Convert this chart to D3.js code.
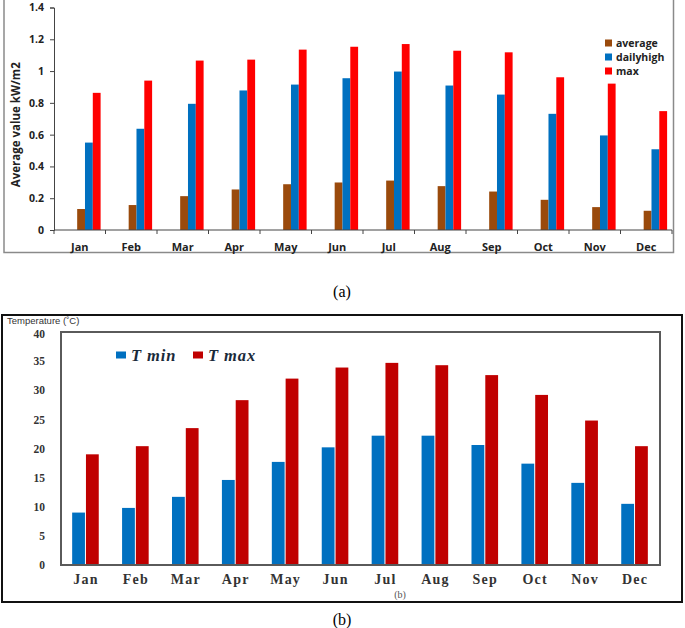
<!DOCTYPE html>
<html>
<head>
<meta charset="utf-8">
<script src="https://cdn.jsdelivr.net/npm/d3@7"></script>
<style>
  body { margin: 0; background: #fff; }
  svg { display: block; }
</style>
</head>
<body>
<svg id="chart" width="685" height="628"></svg>
<script>
// data
var months = ["Jan", "Feb", "Mar", "Apr", "May", "Jun", "Jul", "Aug", "Sep", "Oct", "Nov", "Dec"];

// (a) solar radiation, kW/m2
var solarSeries = ["average", "dailyhigh", "max"];
var solarAverage = [0.132, 0.157, 0.213, 0.255, 0.288, 0.299, 0.311, 0.276, 0.242, 0.19, 0.144, 0.121];
var solarDailyHigh = [0.55, 0.637, 0.794, 0.878, 0.915, 0.955, 0.997, 0.909, 0.852, 0.731, 0.595, 0.508];
var solarMax = [0.863, 0.94, 1.066, 1.072, 1.135, 1.153, 1.17, 1.128, 1.118, 0.961, 0.921, 0.748];
var solarTicks = [0, 0.2, 0.4, 0.6, 0.8, 1, 1.2, 1.4];

// (b) temperature, degC
var tempSeries = ["T min", "T max"];
var tMin = [9.0, 9.8, 11.7, 14.6, 17.7, 20.2, 22.2, 22.2, 20.6, 17.4, 14.1, 10.5];
var tMax = [19.0, 20.4, 23.5, 28.3, 32.0, 33.9, 34.7, 34.3, 32.6, 29.2, 24.8, 20.4];
var tempTicks = [0, 5, 10, 15, 20, 25, 30, 35, 40];

var svg = d3.select("#chart");
var sans = "'Open Sans', 'DejaVu Sans', sans-serif";
var serif = "'Liberation Serif', 'DejaVu Serif', serif";

// ---------- chart (a) ----------
var solarColor = d3.scaleOrdinal().domain(solarSeries).range(["#9a4a0c", "#0070c0", "#ff0000"]);
var solarValues = { "average": solarAverage, "dailyhigh": solarDailyHigh, "max": solarMax };

var a = { left: 54, right: 672, top: 7.5, bottom: 230 };
var xa = d3.scaleBand().domain(months).range([a.left, a.right]);
var ya = d3.scaleLinear().domain([0, 1.4]).range([a.bottom, a.top]);
var bwa = xa.bandwidth();
var xaInner = d3.scaleBand().domain(solarSeries).range([bwa * 0.45, bwa * 0.905]);

var ga = svg.append("g");

// frame round the chart
ga.append("path")
    .attr("d", "M4,0V252.5H673.5V0")
    .attr("fill", "none")
    .attr("stroke", "#8a8a8a")
    .attr("stroke-width", 1.5);

solarSeries.forEach(function (s) {
    ga.append("g").selectAll("rect")
        .data(months)
        .enter().append("rect")
        .attr("x", function (m) { return xa(m) + xaInner(s); })
        .attr("width", xaInner.bandwidth())
        .attr("y", function (m, i) { return ya(solarValues[s][i]); })
        .attr("height", function (m, i) { return a.bottom - ya(solarValues[s][i]); })
        .attr("fill", solarColor(s));
});

var yAxisA = ga.append("g")
    .attr("transform", "translate(" + a.left + ",0)")
    .call(d3.axisLeft(ya).tickValues(solarTicks).tickSize(4).tickPadding(6)
        .tickFormat(function (d) { return d3.format("")(+d.toFixed(1)); }));
yAxisA.selectAll("text").attr("font-family", sans).attr("font-weight", "bold").attr("font-size", 10.5).attr("fill", "#222");
yAxisA.selectAll("line, path").attr("stroke", "#444");

var xAxisA = ga.append("g")
    .attr("transform", "translate(0," + a.bottom + ")")
    .call(d3.axisBottom(xa).tickSize(0).tickPadding(13));
xAxisA.selectAll("text").attr("font-family", sans).attr("font-weight", "bold").attr("font-size", 11).attr("fill", "#222");
xAxisA.select("path").attr("stroke", "#444").attr("d", "M" + a.left + ",0H" + a.right);
// category separators
xAxisA.append("g").selectAll("line")
    .data(months.concat(["end"]))
    .enter().append("line")
    .attr("x1", function (m, i) { return a.left + i * bwa; })
    .attr("x2", function (m, i) { return a.left + i * bwa; })
    .attr("y1", 0).attr("y2", 4)
    .attr("stroke", "#444");

ga.append("text")
    .attr("transform", "translate(20," + ((a.top + a.bottom) / 2 + 6) + ") rotate(-90)")
    .attr("text-anchor", "middle")
    .attr("font-family", sans).attr("font-weight", "bold").attr("font-size", 11.5)
    .attr("fill", "#222")
    .text("Average value  kW/m2");

var legA = ga.append("g").attr("transform", "translate(605,43)");
solarSeries.forEach(function (s, i) {
    var row = legA.append("g").attr("transform", "translate(0," + i * 14 + ")");
    row.append("rect").attr("x", 0).attr("y", -3.5).attr("width", 7).attr("height", 7).attr("fill", solarColor(s));
    row.append("text").attr("x", 11).attr("y", 4)
        .attr("font-family", sans).attr("font-weight", "bold").attr("font-size", 10.5).attr("fill", "#222")
        .text(s);
});

svg.append("text")
    .attr("x", 342).attr("y", 297)
    .attr("text-anchor", "middle")
    .attr("font-family", serif).attr("font-size", 16)
    .text("(a)");

// ---------- chart (b) ----------
var tempColor = d3.scaleOrdinal().domain(tempSeries).range(["#0070c0", "#c00000"]);
var tempValues = { "T min": tMin, "T max": tMax };

var b = { left: 61, right: 660, top: 332, bottom: 565 };
var xb = d3.scaleBand().domain(months).range([b.left, b.right]);
var yb = d3.scaleLinear().domain([0, 40]).range([b.bottom, b.top]);
var bwb = xb.bandwidth();
var xbInner = d3.scaleBand().domain(tempSeries).range([bwb / 2 - 13.8, bwb / 2 + 13.8]);

var gb = svg.append("g");

gb.append("rect")
    .attr("x", 2).attr("y", 315).attr("width", 680).attr("height", 287)
    .attr("fill", "none").attr("stroke", "#111").attr("stroke-width", 2);

tempSeries.forEach(function (s) {
    gb.append("g").selectAll("rect")
        .data(months)
        .enter().append("rect")
        .attr("x", function (m) { return xb(m) + xbInner(s); })
        .attr("width", xbInner.bandwidth() - 1)
        .attr("y", function (m, i) { return yb(tempValues[s][i]); })
        .attr("height", function (m, i) { return b.bottom - yb(tempValues[s][i]); })
        .attr("fill", tempColor(s));
});

gb.append("rect")
    .attr("x", b.left).attr("y", b.top).attr("width", b.right - b.left).attr("height", b.bottom - b.top)
    .attr("fill", "none").attr("stroke", "#5a5a5a").attr("stroke-width", 2);

var yAxisB = gb.append("g")
    .attr("transform", "translate(" + (b.left - 16) + ",0)")
    .call(d3.axisLeft(yb).tickValues(tempTicks).tickSize(0).tickPadding(0));
yAxisB.select("path").remove();
yAxisB.selectAll("text").attr("font-family", serif).attr("font-weight", "bold").attr("font-size", 11.5).attr("fill", "#333");
// keep the top label clear of the axis title above it
yAxisB.selectAll(".tick").filter(function (d) { return d === 40; }).select("text").attr("dy", "0.45em");

var xAxisB = gb.append("g")
    .attr("transform", "translate(0," + b.bottom + ")")
    .call(d3.axisBottom(xb).tickSize(0).tickPadding(9));
xAxisB.select("path").remove();
xAxisB.selectAll("text").attr("font-family", serif).attr("font-weight", "bold").attr("font-size", 14)
    .attr("letter-spacing", 1.2).attr("fill", "#333");

gb.append("text")
    .attr("x", 7).attr("y", 323.5)
    .attr("font-family", "'Liberation Sans', Arial, sans-serif").attr("font-size", 9.5)
    .attr("fill", "#333")
    .text("Temperature (˚C)");

var legB = gb.append("g").attr("transform", "translate(116,355)");
tempSeries.forEach(function (s, i) {
    var row = legB.append("g").attr("transform", "translate(" + (i * 77) + ",0)");
    row.append("rect").attr("x", 0).attr("y", -3.5).attr("width", 10).attr("height", 7).attr("fill", tempColor(s));
    row.append("text").attr("x", 15).attr("y", 5.5)
        .attr("font-family", serif).attr("font-weight", "bold").attr("font-style", "italic")
        .attr("font-size", 16.5).attr("letter-spacing", 0.9).attr("fill", "#1a2a3a")
        .text(s);
});

gb.append("text")
    .attr("x", 400).attr("y", 598)
    .attr("text-anchor", "middle")
    .attr("font-family", serif).attr("font-size", 10).attr("fill", "#555")
    .text("(b)");

svg.append("text")
    .attr("x", 342).attr("y", 625)
    .attr("text-anchor", "middle")
    .attr("font-family", serif).attr("font-size", 16)
    .text("(b)");
</script>
</body>
</html>
